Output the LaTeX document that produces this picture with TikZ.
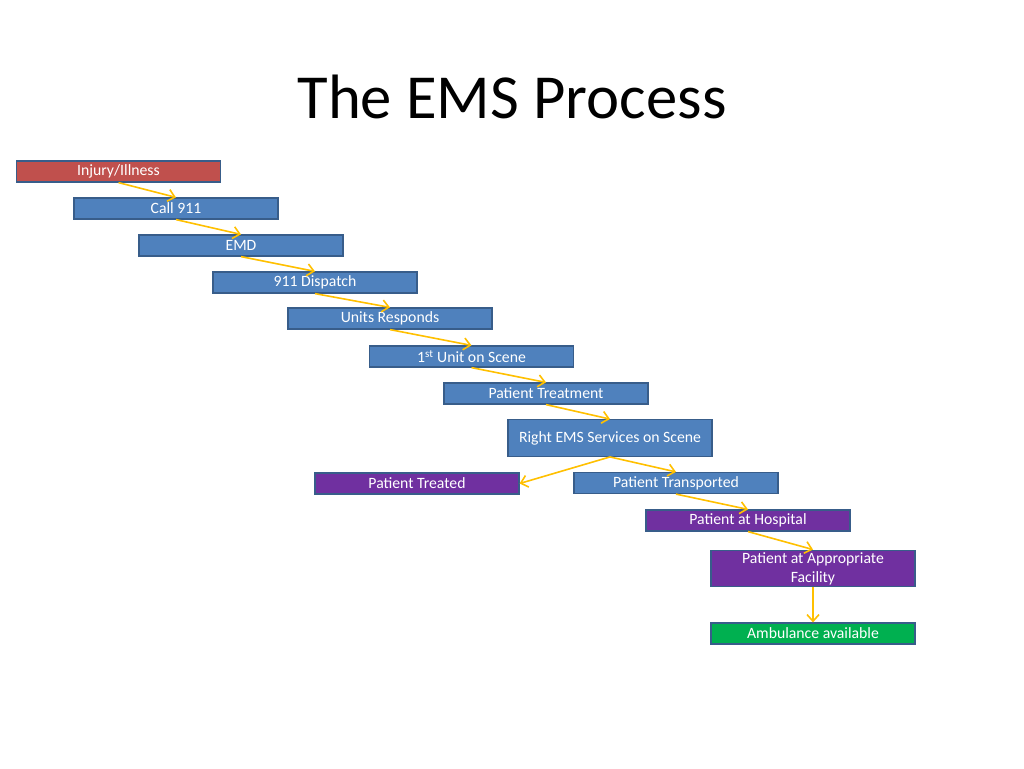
\documentclass[tikz,border=0pt]{standalone}
\usepackage{fontspec}
\setmainfont{Carlito}
\usetikzlibrary{arrows.meta}
\definecolor{boxblue}{HTML}{4F81BD}
\definecolor{boxred}{HTML}{C0504D}
\definecolor{boxpurple}{HTML}{7030A0}
\definecolor{boxgreen}{HTML}{00B050}
\definecolor{edgeblue}{HTML}{385D8A}
\definecolor{arrowgold}{HTML}{FFC000}
\tikzset{
  stage/.style={draw=edgeblue, line width=0.9pt, fill=boxblue, text=white,
    minimum width=153pt, minimum height=15.75pt, inner sep=0pt,
    font=\fontsize{11.8}{14}\selectfont, align=center},
  tall/.style={minimum height=27.5pt},
  flow/.style={draw=arrowgold, line width=1.2pt, -{Straight Barb[length=5pt,width=9pt]}}
}
\begin{document}
\begin{tikzpicture}[x=0.75pt, y=-0.75pt]
  \useasboundingbox[fill=white] (0,0) rectangle (1024,768);
  \node[font=\fontsize{47}{50}\selectfont] (title) at (512,97) {The EMS Process};
  % stages
  \node[stage, fill=boxred] (injury) at (118.5,171.5) {Injury/Illness};
  \node[stage] (call) at (176,208.5) {Call 911};
  \node[stage] (emd) at (241,245.5) {EMD};
  \node[stage] (dispatch) at (315,282.5) {911 Dispatch};
  \node[stage] (units) at (390,318.5) {Units Responds};
  \node[stage] (first) at (471.5,356.5) {1\textsuperscript{st} Unit on Scene};
  \node[stage] (treatment) at (546,393.5) {Patient Treatment};
  \node[stage, tall] (right) at (610,438) {Right EMS Services on Scene};
  \node[stage, fill=boxpurple] (treated) at (417,483.5) {Patient Treated};
  \node[stage] (transported) at (676,483) {Patient Transported};
  \node[stage, fill=boxpurple] (hospital) at (748,520.5) {Patient at Hospital};
  \node[stage, tall, fill=boxpurple] (facility) at (813,568.5) {Patient at Appropriate\\Facility};
  \node[stage, fill=boxgreen] (ambulance) at (813,633.5) {Ambulance available};
  % arrows
  \draw[flow] (injury.south) -- (call.north);
  \draw[flow] (call.south) -- (emd.north);
  \draw[flow] (emd.south) -- (dispatch.north);
  \draw[flow] (dispatch.south) -- (units.north);
  \draw[flow] (units.south) -- (first.north);
  \draw[flow] (first.south) -- (treatment.north);
  \draw[flow] (treatment.south) -- (right.north);
  \draw[flow] (right.south) -- (treated.east);
  \draw[flow] (right.south) -- (transported.north);
  \draw[flow] (transported.south) -- (hospital.north);
  \draw[flow] (hospital.south) -- (facility.north);
  \draw[flow] (facility.south) -- (ambulance.north);
\end{tikzpicture}
\end{document}
